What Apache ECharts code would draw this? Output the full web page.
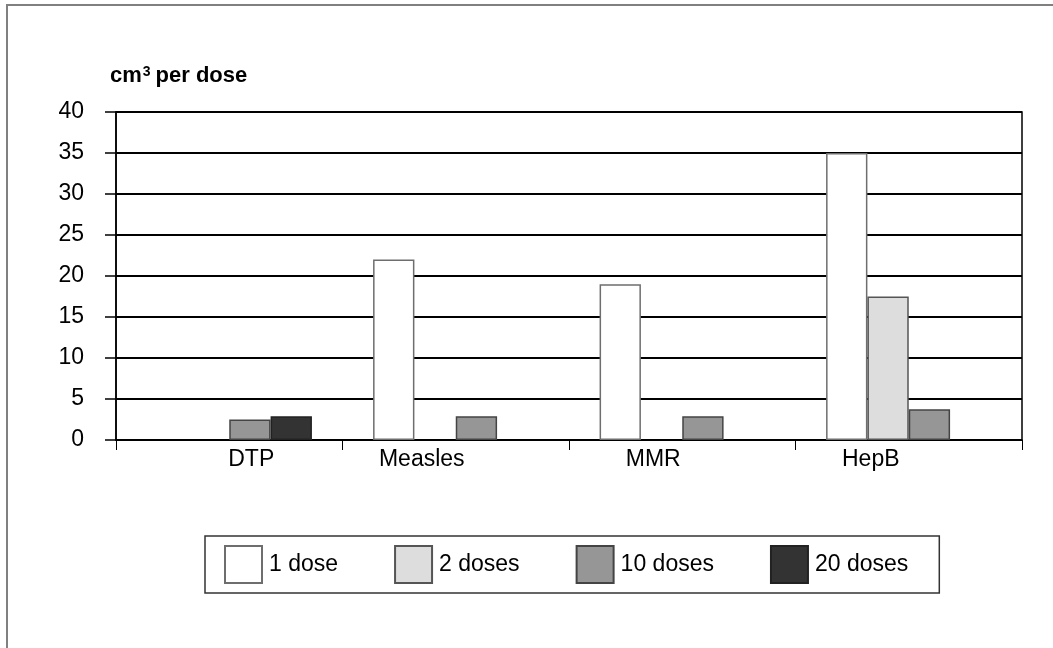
<!DOCTYPE html>
<html>
<head>
<meta charset="utf-8">
<script src="https://cdn.jsdelivr.net/npm/echarts@6/dist/echarts.min.js"></script>
<style>
html,body{margin:0;padding:0;background:#fff;}
#c{width:1053px;height:648px;}
</style>
</head>
<body>
<div id="c"></div>
<script>
const categories = ['DTP', 'Measles', 'MMR', 'HepB'];
const seriesNames = ['1 dose', '2 doses', '10 doses', '20 doses'];
const dose1 = [null, 22, 19, 35];
const dose2 = [null, null, null, 17.5];
const dose10 = [2.5, 2.9, 2.9, 3.75];
const dose20 = [2.9, null, null, null];
const yTicks = [0, 5, 10, 15, 20, 25, 30, 35, 40];

const FONT = '"Liberation Sans", Arial, sans-serif';
const fills = ['#ffffff', '#dddddd', '#969696', '#333333'];
const borders = ['#6e6e6e', '#555555', '#444444', '#222222'];
const values = [dose1, dose2, dose10, dose20];
// label shifts (Excel placed the category labels off-centre)
const labelPads = [[0,0,0,44],[0,68,0,0],[0,58,0,0],[0,76,0,0]];

const chart = echarts.init(document.getElementById('c'), null, {renderer: 'canvas'});
chart.setOption({
  backgroundColor: '#fff',
  animation: false,
  textStyle: {fontFamily: FONT},
  graphic: [{
    type: 'rect', silent: true,
    shape: {x: 7, y: 5, width: 1200, height: 800},
    style: {fill: 'none', stroke: '#808080', lineWidth: 2}
  }],
  title: {
    text: 'cm{sup|3}per dose',
    left: 105, top: 60,
    textStyle: {
      fontFamily: FONT, fontSize: 22, fontWeight: 'bold', color: '#000',
      rich: {sup: {fontFamily: FONT, fontSize: 14, fontWeight: 'bold', color: '#000', verticalAlign: 'top', padding: [0, 5, 8, 1]}}
    }
  },
  grid: {
    left: 116, top: 112, width: 906, height: 328,
    show: true, borderColor: '#000', borderWidth: 1.5, backgroundColor: '#fff'
  },
  legend: {
    left: 205, top: 536,
    padding: [9, 31, 9, 19],
    itemWidth: 37, itemHeight: 37, itemGap: 56,
    icon: 'rect',
    borderColor: '#333', borderWidth: 1.5,
    textStyle: {fontFamily: FONT, fontSize: 23, color: '#000', padding: [0, 0, 0, 2]},
    data: seriesNames
  },
  xAxis: {
    type: 'category',
    data: categories.map((c, i) => ({value: c, textStyle: {padding: labelPads[i]}})),
    boundaryGap: true,
    axisLine: {lineStyle: {color: '#000', width: 1.5}},
    axisTick: {show: true, interval: 0, length: 10, lineStyle: {color: '#000', width: 1}},
    axisLabel: {interval: 0, margin: 8, fontFamily: FONT, fontSize: 23, color: '#000'},
    splitLine: {show: false}
  },
  yAxis: {
    type: 'value',
    min: yTicks[0], max: yTicks[yTicks.length - 1], interval: 5,
    axisLine: {show: true, lineStyle: {color: '#000', width: 1.5}},
    axisTick: {show: true, length: 11, lineStyle: {color: '#000', width: 1.5}},
    axisLabel: {margin: 32, fontFamily: FONT, fontSize: 23, color: '#000'},
    splitLine: {show: true, lineStyle: {color: '#000', width: 2}}
  },
  series: seriesNames.map((name, i) => ({
    name: name,
    type: 'bar',
    data: values[i],
    barGap: '0%',
    barCategoryGap: '27%',
    itemStyle: {color: fills[i], borderColor: borders[i], borderWidth: 1.5}
  }))
});
</script>
</body>
</html>
